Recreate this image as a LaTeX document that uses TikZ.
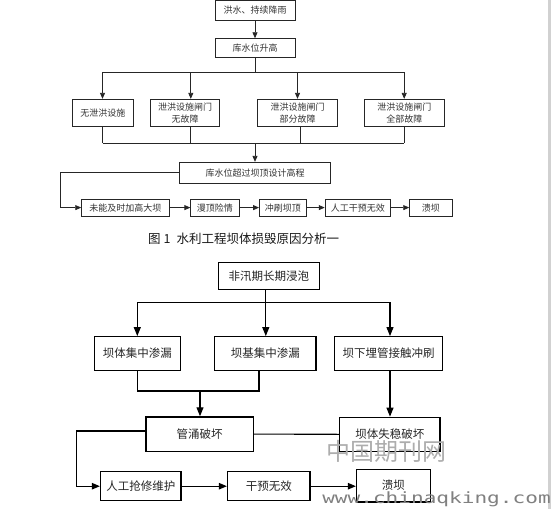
\documentclass[tikz,border=0pt]{standalone}
\usepackage{fontspec}
\setmainfont{Noto Sans CJK SC}
\newfontfamily\wmmono{DejaVu Sans Mono}
\usetikzlibrary{arrows.meta}
\begin{document}
\begin{tikzpicture}[x=1pt,y=-1pt,
  tbox/.style={draw=black!85, line width=0.9pt, inner sep=0pt, text=black!80,
    font=\fontsize{9}{11.4}\selectfont, align=center},
  bbox/.style={draw=black, line width=1.3pt, inner sep=0pt, text=black!85,
    font=\fontsize{11.5}{13}\selectfont, align=center},
  tline/.style={line width=0.8pt, draw=black!85},
  tarr/.style={tline, -{Triangle[length=6pt,width=5pt]}},
  bline/.style={line width=1.1pt, draw=black},
  barr/.style={bline, -{Triangle[length=9pt,width=7pt]}},
  harr/.style={bline, -{Triangle[length=8pt,width=6.5pt]}},
]
\useasboundingbox (0,0) rectangle (552,509);
\fill[white] (0,0) rectangle (552,509);
\fill[black!18] (548,0) rectangle (551,509);

% ---------- Figure 1 ----------
\node[tbox, minimum width=80pt, minimum height=20pt] (a1) at (255,10.5) {洪水、持续降雨};
\node[tbox, minimum width=80pt, minimum height=18.6pt] (a2) at (255,48) {库水位升高};
\draw[tarr] (a1) -- (a2);

\node[tbox, minimum width=61.5pt, minimum height=27.4pt] (b1) at (102.75,113) {无泄洪设施};
\node[tbox, minimum width=69pt, minimum height=27.4pt] (b2) at (185.2,113) {泄洪设施闸门\\无故障};
\node[tbox, minimum width=80pt, minimum height=27.4pt] (b3) at (297.5,113) {泄洪设施闸门\\部分故障};
\node[tbox, minimum width=80pt, minimum height=27.4pt] (b4) at (404.3,113) {泄洪设施闸门\\全部故障};

\coordinate (s0) at (255,72.3);
\coordinate (s1) at (102.5,72.3);
\coordinate (s2) at (190.8,72.3);
\coordinate (s3) at (297.5,72.3);
\coordinate (s4) at (404.2,72.3);
\draw[tline] (a2) -- (s0);
\draw[tline] (s1) -- (s4);
\draw[tarr] (s1) -- (s1 |- b1.north);
\draw[tarr] (s2) -- (s2 |- b2.north);
\draw[tarr] (s3) -- (s3 |- b3.north);
\draw[tarr] (s4) -- (s4 |- b4.north);

\node[tbox, minimum width=150.8pt, minimum height=21pt] (c) at (255,172.8) {库水位超过坝顶设计高程};
\coordinate (m0) at (255,143.3);
\coordinate (m1) at (102.7,143.3);
\coordinate (m2) at (190.7,143.3);
\coordinate (m3) at (300,143.3);
\coordinate (m4) at (404.2,143.3);
\draw[tline] (m1 |- b1.south) -- (m1);
\draw[tline] (m2 |- b2.south) -- (m2);
\draw[tline] (m3 |- b3.south) -- (m3);
\draw[tline] (m4 |- b4.south) -- (m4);
\draw[tline] (m1) -- (m4);
\draw[tarr] (m0) -- (c.north);

\node[tbox, minimum width=87.3pt, minimum height=16.7pt] (d1) at (125.35,207.6) {未能及时加高大坝};
\node[tbox, minimum width=48.2pt, minimum height=16.7pt] (d2) at (214.9,207.6) {漫顶险情};
\node[tbox, minimum width=46.5pt, minimum height=16.7pt] (d3) at (282.75,207.6) {冲刷坝顶};
\node[tbox, minimum width=65.3pt, minimum height=16.7pt] (d4) at (357.85,207.6) {人工干预无效};
\node[tbox, minimum width=42.3pt, minimum height=16.7pt] (d5) at (430.85,207.6) {溃坝};
\coordinate (cl) at (60,172.8);
\draw[tarr] (c.west) -- (cl) |- (d1.west);
\draw[tarr] (d1) -- (d2);
\draw[tarr] (d2) -- (d3);
\draw[tarr] (d3) -- (d4);
\draw[tarr] (d4) -- (d5);

\node[font=\fontsize{12.5}{14}\selectfont, text=black!90] (cap) at (243.7,238.3) {图 1\enspace 水利工程坝体损毁原因分析一};

% ---------- Figure 2 ----------
\node[bbox, minimum width=101.1pt, minimum height=27pt] (e) at (268.85,275.8) {非汛期长期浸泡};
\node[bbox, minimum width=85.9pt, minimum height=33.8pt] (f1) at (137.35,353.6) {坝体集中渗漏};
\node[bbox, minimum width=101.5pt, minimum height=33.8pt] (f2) at (265.25,353.6) {坝基集中渗漏};
\node[bbox, minimum width=107.9pt, minimum height=33.8pt] (f3) at (388.65,353.6) {坝下埋管接触冲刷};

\coordinate (t0) at (265.8,302.3);
\coordinate (t1) at (137.3,302.3);
\coordinate (t3) at (390,302.3);
\draw[bline] (t0 |- e.south) -- (t0);
\draw[bline] (t1) -- (t3);
\draw[barr] (t1) -- (t1 |- f1.north);
\draw[barr] (t0) -- (t0 |- f2.north);
\draw[barr] (t3) -- (t3 |- f3.north);

\node[bbox, minimum width=107.4pt, minimum height=34.4pt] (g) at (199.7,434.1) {管涌破坏};
\node[bbox, minimum width=100.2pt, minimum height=34pt] (h) at (389.9,434.3) {坝体失稳破坏};

\coordinate (u1) at (137.5,391);
\coordinate (u2) at (259,391);
\coordinate (u0) at (200,391);
\draw[bline] (u1 |- f1.south) -- (u1) -- (u2) -- (u2 |- f2.south);
\draw[barr] (u0) -- (u0 |- g.north);
\draw[barr] (t3 |- f3.south) -- (t3 |- h.north);
\draw[bline] (g.east) -- (h.west);

\node[bbox, minimum width=80.5pt, minimum height=29pt] (i) at (140.75,486.2) {人工抢修维护};
\node[bbox, minimum width=82.5pt, minimum height=29pt] (j) at (268.75,486.2) {干预无效};
\node[bbox, minimum width=73.7pt, minimum height=32.7pt] (k) at (393.35,485.7) {\raisebox{1.5pt}{溃坝}};

\coordinate (gl) at (76.8,431);
\draw[harr] (g.west |- gl) -- (gl) |- (i.west);
\draw[harr] (i) -- (j);
\draw[harr] (j.east) -- (k.west |- j.east);

% ---------- watermarks ----------
\node[text=black!32, font=\fontsize{24}{24}\selectfont] (wm1) at (386,451.5) {中国期刊网};
\node[text=black!50, font=\wmmono\fontsize{15.5}{15.5}\selectfont, xscale=1.36, anchor=base west, inner sep=0pt] (wm2) at (322,503.5) {www.chinaqking.com};
\end{tikzpicture}
\end{document}
